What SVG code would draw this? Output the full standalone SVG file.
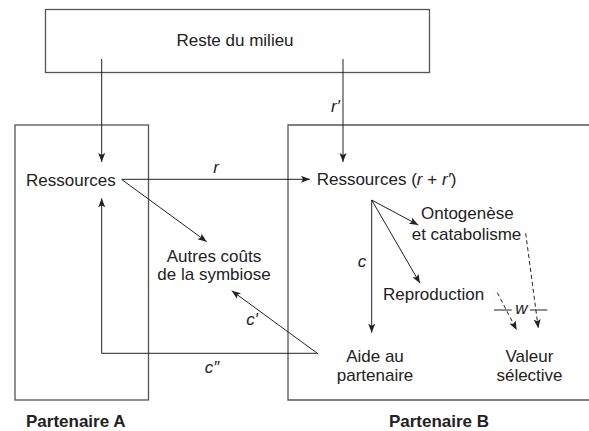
<svg xmlns="http://www.w3.org/2000/svg" width="589" height="431" viewBox="0 0 589 431">
<defs>
<marker id="ah" markerUnits="userSpaceOnUse" markerWidth="10" markerHeight="8" refX="9" refY="3.5" orient="auto">
<path d="M0,0 L9,3.5 L0,7 L2,3.5 Z" fill="#222"/>
</marker>
<style>
.box{fill:none;stroke:#555;stroke-width:1.3}
.ln{fill:none;stroke:#222;stroke-width:1}
.ar{fill:none;stroke:#222;stroke-width:1;marker-end:url(#ah)}
.da{fill:none;stroke:#222;stroke-width:1;stroke-dasharray:4 3;marker-end:url(#ah)}
text{font-family:"Liberation Sans",Arial,sans-serif;font-size:17px;fill:#222}
.it{font-style:italic}
.b{font-weight:bold}
.m{text-anchor:middle}
</style>
</defs>
<g id="milieu">
<rect class="box" x="45.5" y="9.5" width="384" height="63"/>
<text class="m" x="235" y="46">Reste du milieu</text>
</g>
<g id="partenaireA">
<rect class="box" x="15" y="125" width="133.5" height="275"/>
<text class="b" x="26" y="427">Partenaire A</text>
</g>
<g id="partenaireB">
<path class="box" d="M600,125 H288 V400 H600"/>
<text class="b m" x="439" y="427">Partenaire B</text>
</g>
<g id="ressourcesA"><text x="26" y="186">Ressources</text></g>
<g id="ressourcesB"><text x="316.7" y="185">Ressources (<tspan class="it">r</tspan> + <tspan class="it">r′</tspan>)</text></g>
<g id="autres"><text class="m" x="214" y="261.5">Autres coûts</text><text class="m" x="214" y="280">de la symbiose</text></g>
<g id="ontogenese"><text x="421" y="219">Ontogenèse</text><text x="411.7" y="240">et catabolisme</text></g>
<g id="reproduction"><text x="383" y="300">Reproduction</text></g>
<g id="aide"><text class="m" x="375" y="361.7">Aide au</text><text class="m" x="375" y="380.7">partenaire</text></g>
<g id="valeur"><text class="m" x="529.5" y="361.7">Valeur</text><text class="m" x="529.5" y="380.7">sélective</text></g>
<g id="connectors">
<line class="ar" x1="101.7" y1="59" x2="101.7" y2="162"/>
<line class="ar" x1="343" y1="59" x2="343" y2="162"/>
<line class="ar" x1="121.7" y1="179.3" x2="310" y2="179.3"/>
<line class="ar" x1="121.7" y1="179.5" x2="206.7" y2="241.7"/>
<polyline class="ar" points="316.7,353.3 101.7,353.3 101.7,198.3"/>
<line class="ar" x1="318.3" y1="354" x2="231.7" y2="290.7"/>
<line class="ar" x1="371.7" y1="200" x2="418.3" y2="225"/>
<line class="ar" x1="371.7" y1="200" x2="420" y2="283.3"/>
<line class="ar" x1="371.7" y1="200" x2="371.7" y2="332.7"/>
<line class="da" x1="525.7" y1="233.3" x2="538.3" y2="328.3"/>
<line class="da" x1="497.3" y1="292.7" x2="516.7" y2="330"/>
<line class="ln" x1="494" y1="310" x2="511.7" y2="310"/>
<line class="ln" x1="530" y1="310" x2="547.3" y2="310"/>
<text class="it" x="331" y="112">r′</text>
<text class="it m" x="216" y="173">r</text>
<text class="it m" x="252" y="325">c′</text>
<text class="it m" x="212" y="373">c″</text>
<text class="it m" x="362" y="267">c</text>
<text class="it m" x="521.5" y="314">w</text>
</g>
</svg>
